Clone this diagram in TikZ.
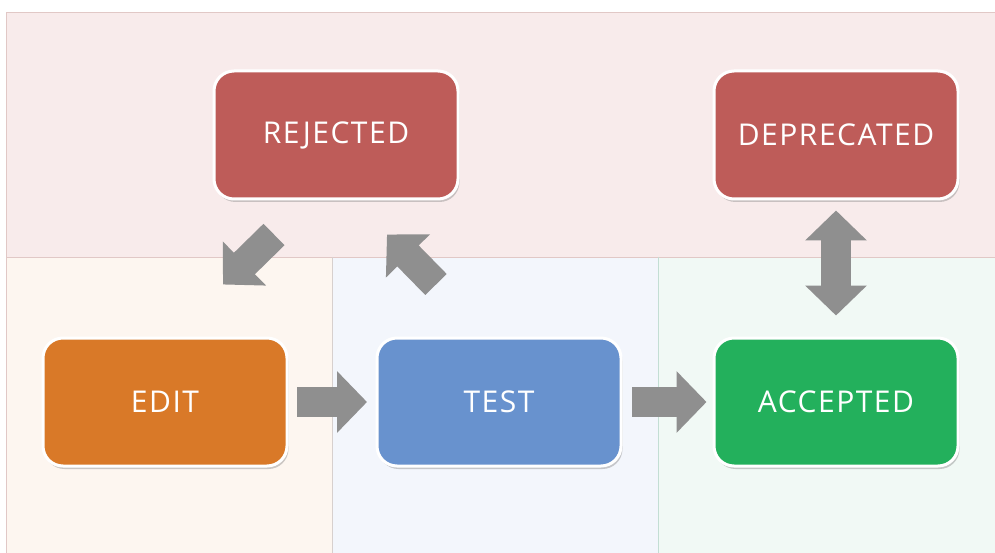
\documentclass[tikz,border=0pt]{standalone}
\usepackage{fontspec}
\newfontfamily\statefont[LetterSpace=5]{Open Sans}
\usetikzlibrary{arrows.meta,shadows,calc}

\definecolor{redstate}{RGB}{190,92,89}
\definecolor{orangestate}{RGB}{217,121,40}
\definecolor{bluestate}{RGB}{104,146,206}
\definecolor{greenstate}{RGB}{35,176,92}
\definecolor{arrowgray}{RGB}{143,143,143}
\definecolor{bandpink}{RGB}{248,235,235}
\definecolor{bandorange}{RGB}{253,246,240}
\definecolor{bandblue}{RGB}{243,246,252}
\definecolor{bandgreen}{RGB}{241,249,245}
\definecolor{linepink}{RGB}{225,200,198}
\definecolor{linegray}{RGB}{215,208,206}
\definecolor{linegreen}{RGB}{195,222,212}

\begin{document}
\begin{tikzpicture}[
    x=1pt, y=-1pt,
    state/.style={rectangle, rounded corners=20pt, draw=white, line width=3pt, minimum width=244pt, minimum height=128pt, text=white, font=\statefont\fontsize{30}{34}\selectfont, drop shadow={shadow xshift=1.5pt, shadow yshift=-3pt, opacity=0.4}},
    block/.style={line width=30pt, arrowgray, -{Triangle[width=60pt, length=30pt]}},
    dblock/.style={line width=30pt, arrowgray, {Triangle[width=60pt, length=30pt]}-{Triangle[width=60pt, length=30pt]}},
]
\useasboundingbox (0,0) rectangle (995,553);
\fill[white] (0,0) rectangle (995,553);

% swimlanes
\fill[bandpink] (6,12) rectangle (995,257);
\fill[bandorange] (6,257) rectangle (332,553);
\fill[bandblue] (332,257) rectangle (658,553);
\fill[bandgreen] (658,257) rectangle (995,553);
\draw[linepink] (6,553) -- (6,12) -- (995,12);
\draw[linepink] (6,257) -- (995,257);
\draw[linegray] (332,257) -- (332,553);
\draw[linegreen] (658,257) -- (658,553);

\node[state, fill=redstate] (REJECTED) at (336,135) {REJECTED};
\node[state, fill=redstate] (DEPRECATED) at (836,135) {DEPRECATED};
\node[state, fill=orangestate] (EDIT) at (165,402) {EDIT};
\node[state, fill=bluestate] (TEST) at (499,402) {TEST};
\node[state, fill=greenstate] (ACCEPTED) at (836,402) {ACCEPTED};

\draw[block, shorten <=8.5pt, shorten >=8.5pt] (EDIT) -- (TEST);
\draw[block, shorten <=9.5pt, shorten >=6pt] (TEST) -- (ACCEPTED);
\draw[block] ($(REJECTED.south)+(-62,34)$) -- ($(EDIT.north)+(58,-52)$);
\draw[block] ($(TEST.north)+(-63,-52)$) -- ($(REJECTED.south)+(51,34)$);
\draw[dblock, shorten <=10pt, shorten >=21pt] (DEPRECATED) -- (ACCEPTED);
\end{tikzpicture}
\end{document}
